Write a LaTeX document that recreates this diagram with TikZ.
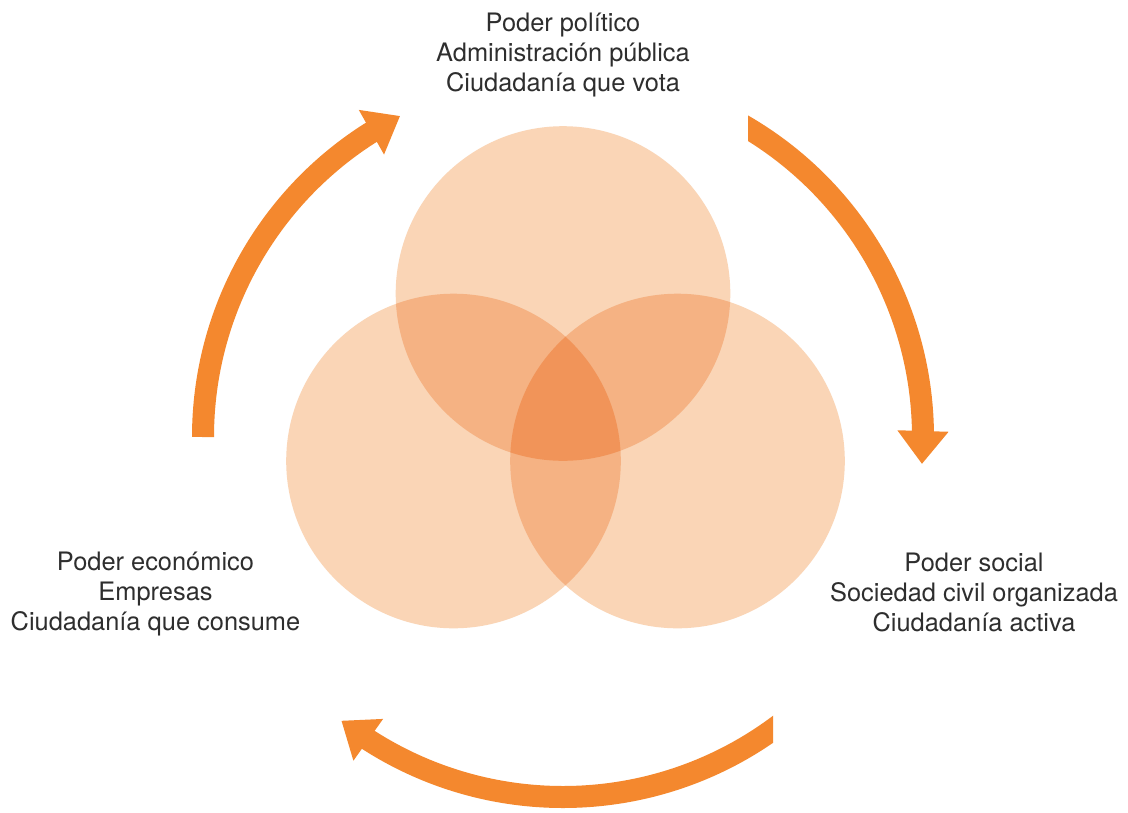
\documentclass[tikz,border=0pt]{standalone}
\usepackage{fontspec}
\setmainfont{TeX Gyre Heros}
\usetikzlibrary{arrows.meta,bending}
\definecolor{arr}{HTML}{F4882E}
\definecolor{cone}{HTML}{FAD5B6}
\definecolor{ctwo}{HTML}{F5B283}
\definecolor{cthree}{HTML}{F19459}
\definecolor{txt}{HTML}{2E2E2E}
\begin{document}
\begin{tikzpicture}[x=1pt,y=-1pt,
  lab/.style={font=\fontsize{25.4}{30}\selectfont, text=txt, align=center, inner sep=0pt},
  cyc/.style={draw=arr, line width=22pt, -{Triangle[width=49pt,length=33pt]}}]
\useasboundingbox[fill=white] (0,0) rectangle (1128,812);
\coordinate (T) at (563,293.5);
\coordinate (L) at (453.5,461);
\coordinate (R) at (677.5,461);
\coordinate (O) at (563,437);
\def\rr{167.3pt}
% circles
\fill[cone] (T) circle[radius=\rr] (L) circle[radius=\rr] (R) circle[radius=\rr];
\begin{scope}
  \clip (T) circle[radius=\rr];
  \fill[ctwo] (L) circle[radius=\rr] (R) circle[radius=\rr];
\end{scope}
\begin{scope}
  \clip (L) circle[radius=\rr];
  \fill[ctwo] (R) circle[radius=\rr];
\end{scope}
\begin{scope}
  \clip (T) circle[radius=\rr];
  \clip (L) circle[radius=\rr];
  \fill[cthree] (R) circle[radius=\rr];
\end{scope}
% cycle arrows
\draw[cyc] ([shift={(180:360)}]O) arc[start angle=180,end angle=243.1,radius=360];
\begin{scope}
  \clip (748,0) rectangle (1128,812);
  \draw[cyc] ([shift={(-62:360)}]O) arc[start angle=-62,end angle=4.3,radius=360];
\end{scope}
\begin{scope}
  \clip (0,0) rectangle (773,812);
  \draw[cyc] ([shift={(52:360)}]O) arc[start angle=52,end angle=128,radius=360];
\end{scope}
% labels
\node[lab] (pol) at (563,55) {Poder político\\Administración pública\\Ciudadanía que vota};
\node[lab] (eco) at (155.5,594) {Poder económico\\Empresas\\Ciudadanía que consume};
\node[lab] (soc) at (974,592) {Poder social\\Sociedad civil organizada\\Ciudadanía activa};
\end{tikzpicture}
\end{document}
